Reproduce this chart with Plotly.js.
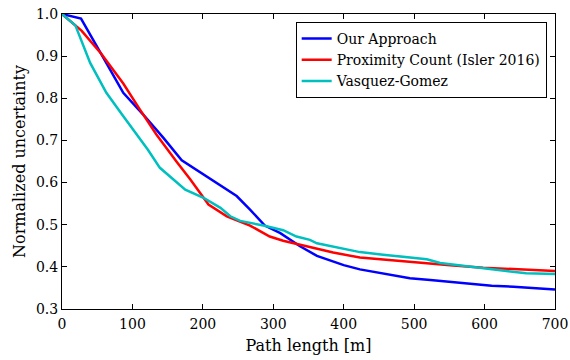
<!DOCTYPE html>
<html>
<head>
<meta charset="utf-8">
<script src="https://cdn.plot.ly/plotly-3.0.1.min.js"></script>
<style>html,body{margin:0;padding:0;background:#fff;}#chart{width:570px;height:360px;}</style>
</head>
<body>
<div id="chart"></div>
<script>
const seriesNames = ["Our Approach", "Proximity Count (Isler 2016)", "Vasquez-Gomez"];
const seriesColors = ["#0000ff", "#ff0000", "#00bfbf"];

const oursX = [0, 27, 58, 87, 115, 144, 170, 198, 220, 248, 267, 288, 310, 338, 362, 400, 423, 452, 475, 494, 523, 551, 584, 610, 641, 669, 700];
const oursY = [1.0, 0.989, 0.898, 0.813, 0.762, 0.706, 0.653, 0.623, 0.600, 0.568, 0.536, 0.498, 0.480, 0.449, 0.426, 0.404, 0.394, 0.385, 0.379, 0.373, 0.369, 0.364, 0.359, 0.355, 0.353, 0.349, 0.346];

const proxX = [0, 19, 28, 56, 87, 110, 134, 163, 182, 208, 234, 267, 295, 314, 338, 385, 423, 475, 504, 551, 598, 646, 700];
const proxY = [1.0, 0.973, 0.960, 0.905, 0.835, 0.775, 0.714, 0.649, 0.608, 0.548, 0.520, 0.498, 0.472, 0.462, 0.452, 0.434, 0.422, 0.414, 0.410, 0.404, 0.398, 0.394, 0.390];

const vgX = [0, 19, 40, 63, 85, 106, 122, 139, 175, 201, 225, 239, 253, 286, 314, 333, 352, 362, 400, 423, 456, 490, 518, 537, 565, 594, 631, 659, 700];
const vgY = [1.0, 0.973, 0.884, 0.813, 0.762, 0.714, 0.678, 0.635, 0.583, 0.564, 0.540, 0.520, 0.509, 0.498, 0.487, 0.472, 0.464, 0.456, 0.443, 0.435, 0.429, 0.422, 0.418, 0.409, 0.403, 0.397, 0.390, 0.385, 0.383];

const xTicks = [0, 100, 200, 300, 400, 500, 600, 700];
const yTicks = [0.3, 0.4, 0.5, 0.6, 0.7, 0.8, 0.9, 1.0];

const font = "DejaVu Serif, serif";
const xs = [oursX, proxX, vgX], ys = [oursY, proxY, vgY];
const traces = seriesNames.map((n, i) => ({
  x: xs[i], y: ys[i], name: n, type: "scatter", mode: "lines",
  line: {color: seriesColors[i], width: 2.5}
}));

const axisCommon = {
  showgrid: false, zeroline: false, showline: true, linecolor: "#000", linewidth: 1,
  mirror: "ticks", ticks: "inside", ticklen: 5, tickwidth: 1, tickcolor: "#000",
  tickfont: {family: font, size: 14, color: "#000"}
};

const layout = {
  width: 570, height: 360,
  margin: {l: 62, r: 15, t: 14, b: 51},
  paper_bgcolor: "#fff", plot_bgcolor: "#fff",
  showlegend: true,
  font: {family: font, color: "#000"},
  xaxis: Object.assign({}, axisCommon, {
    range: [0, 700], tickvals: xTicks, ticktext: xTicks.map(String), ticklabelstandoff: 2,
    title: {text: "Path length [m]", font: {family: font, size: 16, color: "#000"}, standoff: 9}
  }),
  yaxis: Object.assign({}, axisCommon, {
    range: [0.3, 1.0], tickvals: yTicks, ticktext: yTicks.map(v => v.toFixed(1)),
    title: {text: "Normalized uncertainty", font: {family: font, size: 16, color: "#000"}, standoff: 6}
  }),
  legend: {
    x: 0.474, y: 0.973, xanchor: "left", yanchor: "top",
    bgcolor: "#fff", bordercolor: "#000", borderwidth: 1,
    font: {family: font, size: 14, color: "#000"},
    tracegroupgap: 0
  }
};

Plotly.newPlot("chart", traces, layout, {displayModeBar: false, staticPlot: true});
</script>
</body>
</html>
